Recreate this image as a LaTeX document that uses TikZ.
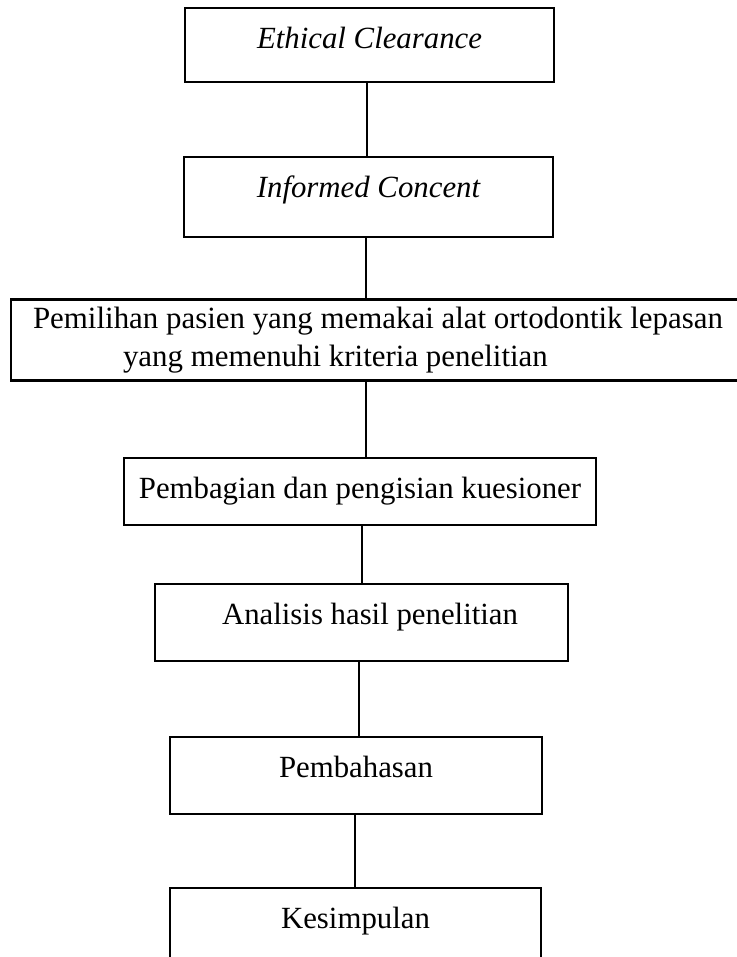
\documentclass[tikz,border=0pt]{standalone}
\usepackage{fontspec}
\setmainfont{Liberation Serif}
\begin{document}
\begin{tikzpicture}[x=0.5pt,y=-0.5pt,
  box/.style={draw, line width=1.1pt, inner xsep=0pt, inner ysep=0pt, anchor=north,
              text height=20pt, font=\fontsize{15.4}{18.5}\selectfont},
  bigbox/.style={draw, line width=1.1pt, inner sep=0pt, align=left,
              font=\fontsize{15.45}{18.8}\selectfont},
  link/.style={line width=1.1pt}]
\useasboundingbox (0,0) rectangle (736,957);
\node[box, minimum width=184.5pt, text depth=17pt] (b1) at (369.5,7) {\itshape Ethical Clearance};
\node[box, minimum width=184.5pt, text depth=20pt] (b2) at (368.5,156) {\itshape Informed Concent};
\node[bigbox, minimum width=367pt, minimum height=40.5pt] (b3) at (378,340)
  {Pemilihan pasien yang memakai alat ortodontik lepasan\\\hspace*{45pt}yang memenuhi kriteria penelitian};
\node[box, minimum width=236pt, text depth=13.5pt] (b4) at (360,457) {Pembagian dan pengisian kuesioner};
\node[box, minimum width=206.5pt, text depth=18.5pt] (b5) at (361.5,583) {\hspace*{8.5pt}Analisis hasil penelitian};
\node[box, minimum width=186pt, text depth=18.5pt] (b6) at (356,736) {Pembahasan};
\node[box, minimum width=185.5pt, text depth=19pt] (b7) at (355.5,887) {Kesimpulan};
\coordinate (c1) at (367,0);
\coordinate (c2) at (366,0);
\coordinate (c3) at (366,0);
\coordinate (c4) at (362,0);
\coordinate (c5) at (359,0);
\coordinate (c6) at (355,0);
\draw[link] (b1.south -| c1) -- (b2.north -| c1);
\draw[link] (b2.south -| c2) -- (b3.north -| c2);
\draw[link] (b3.south -| c3) -- (b4.north -| c3);
\draw[link] (b4.south -| c4) -- (b5.north -| c4);
\draw[link] (b5.south -| c5) -- (b6.north -| c5);
\draw[link] (b6.south -| c6) -- (b7.north -| c6);
\end{tikzpicture}
\end{document}
